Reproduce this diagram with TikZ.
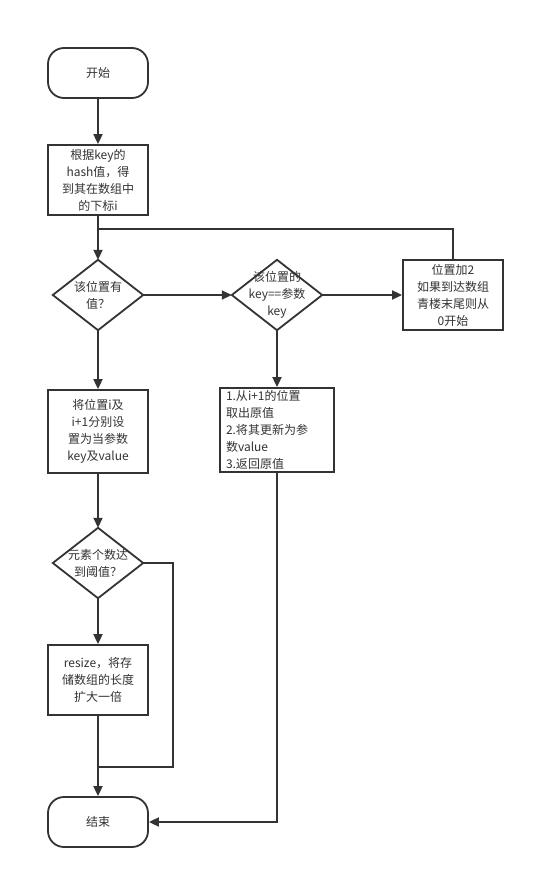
\documentclass[tikz,border=0pt]{standalone}
\usepackage{fontspec}
\newfontfamily\cjk{Noto Sans CJK SC}
\usetikzlibrary{arrows.meta}
\definecolor{ink}{HTML}{333333}
\tikzset{
  line/.style={draw=ink, line width=1.8pt},
  flow/.style={line, -{Triangle[length=10pt,width=9pt]}},
  terminal/.style={line, rounded corners=16pt, minimum width=100pt, minimum height=50pt, font=\cjk\fontsize{12}{17}\selectfont, text=ink},
  process/.style={line, minimum width=100pt, minimum height=70pt, align=center, inner sep=2pt, font=\cjk\fontsize{12}{17}\selectfont, text=ink},
  decision/.style={minimum width=90pt, minimum height=70pt, inner sep=0pt, align=center, font=\cjk\fontsize{12}{17}\selectfont, text=ink}
}
\begin{document}
\begin{tikzpicture}[x=1pt,y=-1pt]
\useasboundingbox[fill=white] (0,0) rectangle (535,880);
% nodes
\node[terminal] (start) at (98,73) {开始};
\node[process] (b1) at (98,180) {根据key的\\hash值，得\\到其在数组中\\的下标i};
\node[decision] (q1) at (98,295) {该位置有\\值？};
\node[decision] (q2) at (277,295) {该位置的\\key==参数\\key};
\node[process] (r1) at (453,295) {位置加2\\如果到达数组\\青楼末尾则从\\0开始};
\node[process, minimum height=83pt] (a1) at (98,431.5) {将位置i及\\i+1分别设\\置为当参数\\key及value};
\node[process, minimum width=114pt, minimum height=84pt, text width=102pt, align=left] (a2) at (277,430) {1.从i+1的位置\\取出原值\\2.将其更新为参\\数value\\3.返回原值};
\node[decision] (q3) at (98,563) {元素个数达\\到阈值？};
\node[process] (b2) at (98,680) {resize，将存\\储数组的长度\\扩大一倍};
\node[terminal] (stop) at (98,822) {结束};
\foreach \d in {q1,q2,q3}
  \draw[line, line join=miter] (\d.north) -- (\d.east) -- (\d.south) -- (\d.west) -- cycle;
\coordinate (merge1) at (98,229);
\coordinate (merge2) at (98,767);
\coordinate (turn) at (173,767);
% connectors
\draw[flow] (start) -- (b1);
\draw[flow] (b1) -- (q1);
\draw[line] (r1.north) |- (merge1);
\draw[flow] (q1.east) -- (q2.west);
\draw[flow] (q2.east) -- (r1.west);
\draw[flow] (q1.south) -- (a1.north);
\draw[flow] (q2.south) -- (a2.north);
\draw[flow] (a1.south) -- (q3.north);
\draw[flow] (q3.south) -- (b2.north);
\draw[flow] (b2.south) -- (stop.north);
\draw[line] (q3.east) -| (turn) -- (merge2);
\draw[flow] (a2.south) |- (stop.east);
\end{tikzpicture}
\end{document}
